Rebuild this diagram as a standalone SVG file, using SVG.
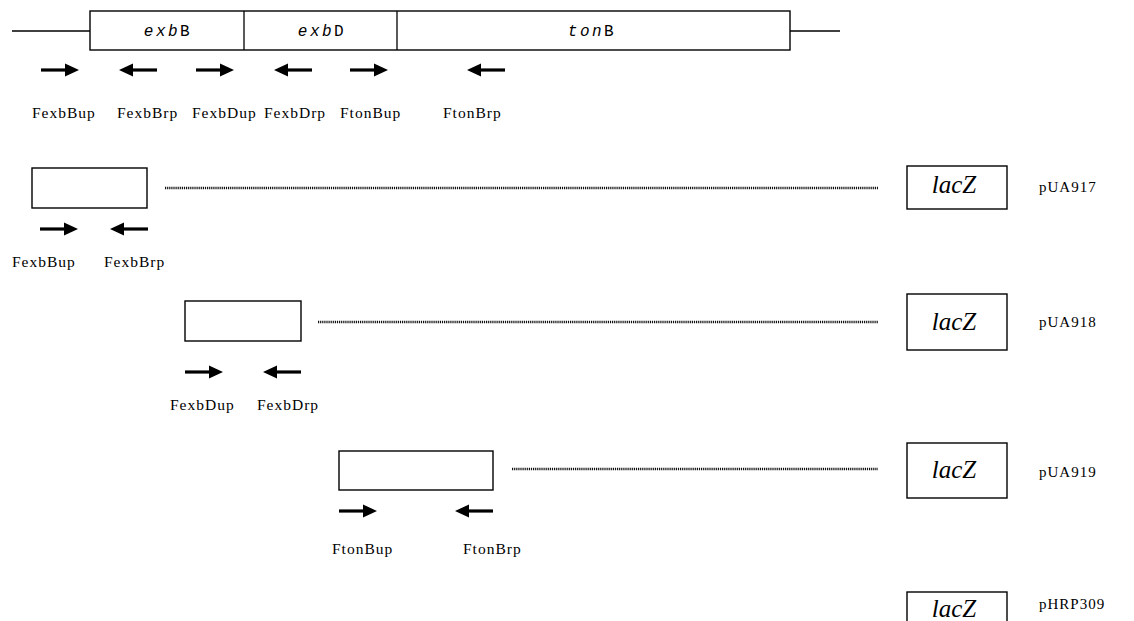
<svg xmlns="http://www.w3.org/2000/svg" width="1134" height="621" viewBox="0 0 1134 621">
<defs>
<style>
.box{fill:#fff;stroke:#000;stroke-width:1.4}
.ln{stroke:#000;stroke-width:1.3;fill:none}
.dot{stroke:#111;stroke-width:2.6;stroke-dasharray:1.2 0.9;fill:none}
.arr{stroke:#000;stroke-width:3.2;fill:none}
.ah{fill:#000}
.lab{font-family:"Liberation Serif","Times New Roman",serif;font-size:15.5px;letter-spacing:1px;fill:#000}
.gene{font-family:"Liberation Mono","Courier New",monospace;font-size:16px;letter-spacing:2.5px;fill:#000;text-anchor:middle}
.lac{font-family:"Liberation Serif","Times New Roman",serif;font-size:25px;font-style:italic;fill:#000;text-anchor:middle}
.pl{font-family:"Liberation Serif","Times New Roman",serif;font-size:15px;letter-spacing:1px;fill:#000}
</style>
<g id="ar"><line class="arr" x1="0" y1="0" x2="26" y2="0"/><polygon class="ah" points="24,-6.5 38,0 24,6.5"/></g>
<g id="al"><line class="arr" x1="12" y1="0" x2="38" y2="0"/><polygon class="ah" points="14,-6.5 0,0 14,6.5"/></g>
</defs>
<rect width="1134" height="621" fill="#fff"/>

<g id="operon">
<line class="ln" x1="12" y1="31" x2="90" y2="31"/>
<line class="ln" x1="790" y1="31" x2="840" y2="31"/>
<rect class="box" x="90" y="11" width="700" height="39"/>
<line class="ln" x1="244" y1="11" x2="244" y2="50"/>
<line class="ln" x1="397" y1="11" x2="397" y2="50"/>
<text class="gene" x="168" y="36"><tspan font-style="italic">exb</tspan>B</text>
<text class="gene" x="322" y="36"><tspan font-style="italic">exb</tspan>D</text>
<text class="gene" x="592" y="36"><tspan font-style="italic">ton</tspan>B</text>
</g>

<g id="primers-top">
<use href="#ar" x="41" y="70"/>
<use href="#al" x="119" y="70"/>
<use href="#ar" x="196" y="70"/>
<use href="#al" x="274" y="70"/>
<use href="#ar" x="350" y="70"/>
<use href="#al" x="467" y="70"/>
<text class="lab" x="32" y="118">FexbBup</text>
<text class="lab" x="117" y="118">FexbBrp</text>
<text class="lab" x="192" y="118">FexbDup</text>
<text class="lab" x="264" y="118">FexbDrp</text>
<text class="lab" x="340" y="118">FtonBup</text>
<text class="lab" x="443" y="118">FtonBrp</text>
</g>

<g id="pUA917">
<rect class="box" x="32" y="168" width="115" height="40"/>
<use href="#ar" x="40" y="229"/>
<use href="#al" x="110" y="229"/>
<text class="lab" x="12" y="267">FexbBup</text>
<text class="lab" x="104" y="267">FexbBrp</text>
<rect class="box" x="907" y="166" width="100" height="43"/>
<text class="lac" x="954" y="193">lacZ</text>
<text class="pl" x="1039" y="192">pUA917</text>
</g>

<g id="pUA918">
<rect class="box" x="907" y="294" width="100" height="56"/>
<rect class="box" x="185" y="301" width="116" height="40"/>
<use href="#ar" x="185" y="372"/>
<use href="#al" x="263" y="372"/>
<text class="lab" x="170" y="410">FexbDup</text>
<text class="lab" x="257" y="410">FexbDrp</text>
<text class="lac" x="954" y="330">lacZ</text>
<text class="pl" x="1039" y="327">pUA918</text>
</g>

<g id="pUA919">
<rect class="box" x="339" y="451" width="154" height="39"/>
<use href="#ar" x="339" y="511"/>
<use href="#al" x="455" y="511"/>
<text class="lab" x="332" y="554">FtonBup</text>
<text class="lab" x="463" y="554">FtonBrp</text>
<rect class="box" x="907" y="443" width="100" height="55"/>
<text class="lac" x="954" y="478">lacZ</text>
<text class="pl" x="1039" y="477">pUA919</text>
</g>

<g id="pHRP309">
<rect class="box" x="907" y="592" width="100" height="40"/>
<text class="lac" x="954" y="617">lacZ</text>
<text class="pl" x="1039" y="609">pHRP309</text>
</g>

<g id="connectors">
<line class="dot" x1="165" y1="188" x2="878" y2="188"/>
<line class="dot" x1="318" y1="322" x2="878" y2="322"/>
<line class="dot" x1="512" y1="469" x2="878" y2="469"/>
</g>
</svg>
